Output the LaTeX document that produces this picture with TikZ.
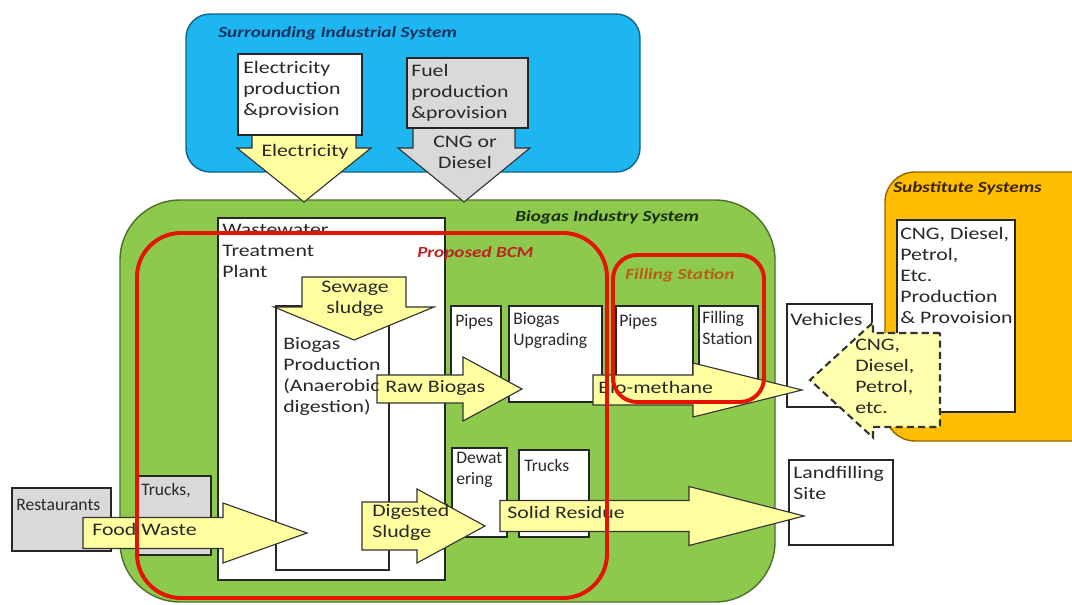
\documentclass[tikz,border=0pt]{standalone}
\usepackage{fontspec}
\setmainfont{Carlito}[FakeStretch=1.24]
\newfontfamily\narrowfont{Carlito}
\usepackage{xcolor}
\usepackage{tikz}
\usetikzlibrary{fit}
\definecolor{skyblue}{RGB}{30, 182, 240}
\definecolor{leafgreen}{RGB}{141, 201, 77}
\definecolor{amber}{RGB}{255, 190, 0}
\definecolor{boxgray}{RGB}{217, 217, 217}
\definecolor{flowyellow}{RGB}{255, 255, 160}
\definecolor{framered}{RGB}{228, 20, 0}
\definecolor{textdark}{RGB}{40, 40, 40}
\definecolor{titleblue}{RGB}{25, 50, 95}
\definecolor{titlegreen}{RGB}{25, 45, 15}
\definecolor{titlered}{RGB}{190, 35, 35}
\definecolor{titleorange}{RGB}{185, 95, 20}
\definecolor{titlebrown}{RGB}{55, 35, 0}
\newcommand{\bodyfont}{\fontsize{12.5}{14.9}\selectfont}
\newcommand{\titlefont}{\fontsize{11}{13}\selectfont\bfseries\itshape}
% block arrows: style, tail, head base, tip, centre, body half, head half
\newcommand{\blockh}[7]{%
    \draw[#1] (#2,{#5-#6}) -- (#3,{#5-#6}) -- (#3,{#5-#7}) -- (#4,#5)
        -- (#3,{#5+#7}) -- (#3,{#5+#6}) -- (#2,{#5+#6}) -- cycle;}
\newcommand{\blockv}[7]{%
    \draw[#1] ({#2-#6},#3) -- ({#2-#6},#4) -- ({#2-#7},#4) -- (#2,#5)
        -- ({#2+#7},#4) -- ({#2+#6},#4) -- ({#2+#6},#3) -- cycle;}
\tikzset{
    panel/.style={rectangle, draw=#1!55!black, fill=#1, line width=1pt, inner sep=0pt},
    box/.style={rectangle, draw=black!85, fill=white, line width=0.9pt, inner sep=0pt},
    graybox/.style={box, fill=boxgray},
    redframe/.style={rectangle, draw=framered, line width=2.8pt, inner sep=0pt},
    txt/.style={anchor=north west, inner sep=0pt, align=left, text=textdark,
        font=\bodyfont, execute at begin node=\strut},
    ntxt/.style={txt, font=\narrowfont\bodyfont},
    lbl/.style={txt, anchor=north, align=center},
    title/.style={anchor=base west, inner sep=0pt, font=\titlefont},
    yarrow/.style={fill=flowyellow, draw=black!80, line width=0.8pt, line join=miter},
    garrow/.style={yarrow, fill=boxgray},
    darrow/.style={yarrow, fill=flowyellow!85!white, dash pattern=on 5pt off 3pt, line width=1.5pt},
}

\begin{document}
\begin{tikzpicture}[x=0.025cm, y=-0.025cm]
    \useasboundingbox (0,0) rectangle (1072,605);
    \clip (0,0) rectangle (1072,605);

    % system panels
    \node[panel=skyblue, rounded corners=0.6cm, fit={(186,14) (640,172)}] (surrounding) {};
    \node[panel=leafgreen, rounded corners=1.5cm, fit={(120,200) (775,602)}] (biogas) {};
    \node[panel=amber, rounded corners=0.75cm, fit={(885,172) (1110,441)}] (substitute) {};

    % supply from the surrounding system
    \blockv{yarrow}{304}{135}{148}{202}{52}{67}
    \blockv{garrow}{464}{128}{148}{202}{51}{66}
    \node[box, fit={(238,54) (362,135)}] (elecprod) {};
    \node[graybox, fit={(407,58) (528,128)}] (fuelprod) {};
    \node[txt] (elecprodtxt) at (243,61) {Electricity\\production\\\&provision};
    \node[txt] (fuelprodtxt) at (411,64) {Fuel\\production\\\&provision};
    \node[lbl] (electxt) at (305,142) {Electricity};
    \node[lbl] (fueltxt) at (465,136) {CNG or\\Diesel};

    % plant and chain boxes
    \node[box, fit={(218,218) (445,580)}] (wwtp) {};
    \node[box, fit={(276,306) (389,570)}] (digester) {};
    \node[box, fit={(451,306) (501,400)}] (pipesin) {};
    \node[box, fit={(509,306) (602,402)}] (upgrading) {};
    \node[box, fit={(616,306) (693,376)}] (pipesout) {};
    \node[box, fit={(699,306) (758,379)}] (station) {};
    \node[box, fit={(787,304) (872,407)}] (vehicles) {};
    \node[box, fit={(897,220) (1015,412)}] (fossil) {};
    \node[box, fit={(789,460) (893,545)}] (landfill) {};
    \node[box, fit={(452,448) (507,537)}] (dewater) {};
    \node[box, fit={(519,450) (589,537)}] (trucksout) {};
    \node[graybox, fit={(12,488) (111,551)}] (restaurants) {};
    \node[graybox, fit={(137,476) (211,555)}] (trucksin) {};

    % material flows
    \blockv{yarrow}{354}{277}{307}{340}{52}{80}
    \blockh{yarrow}{377}{463}{522}{389}{14}{32}
    \blockh{yarrow}{593}{693}{802}{390}{15}{27}
    \blockh{yarrow}{83}{223}{307}{533}{15.5}{30}
    \blockh{yarrow}{362}{417}{485}{526}{24}{37}
    \blockh{yarrow}{500}{689}{804}{516}{15.5}{29.5}
    \blockh{darrow}{940}{873}{810}{380}{47}{57.5}

    \node[txt] (wwtptxt) at (222,224) {Wastewater\\Treatment\\Plant};
    \node[txt] (digestertxt) at (283,337) {Biogas\\Production\\(Anaerobic\\digestion)};
    \node[lbl] (sludgetxt) at (355,281) {Sewage\\sludge};
    \node[txt] (rawtxt) at (385,378) {Raw Biogas};
    \node[ntxt] (pipesintxt) at (455,312) {Pipes};
    \node[ntxt] (upgradingtxt) at (513,312) {Biogas\\Upgrading};
    \node[ntxt] (pipesouttxt) at (619,312) {Pipes};
    \node[ntxt] (stationtxt) at (702,311) {Filling\\Station};
    \node[txt] (methanetxt) at (598,379) {Bio-methane};
    \node[txt] (vehiclestxt) at (790,311) {Vehicles};
    \node[txt] (fossiltxt) at (900,227) {CNG, Diesel,\\Petrol,\\Etc.\\Production\\\& Provoision};
    \node[txt] (fueltypes) at (855,339) {CNG,\\Diesel,\\Petrol,\\etc.};
    \node[txt] (landfilltxt) at (793,466) {Landfilling\\Site};
    \node[ntxt] (restaurantstxt) at (16,496) {Restaurants};
    \node[ntxt] (trucksintxt) at (141,481) {Trucks,};
    \node[txt] (foodtxt) at (92,521) {Food Waste};
    \node[txt] (digestedtxt) at (372,504) {Digested\\Sludge};
    \node[ntxt] (dewatertxt) at (456,452) {Dewat\\ering};
    \node[ntxt] (trucksouttxt) at (524,457) {Trucks};
    \node[txt] (residuetxt) at (507,504) {Solid Residue};

    % model boundaries
    \node[redframe, rounded corners=1.1cm, fit={(137,233) (607,598)}] (bcm) {};
    \node[redframe, rounded corners=0.6cm, fit={(613,255) (764,402)}] (fillframe) {};

    \node[title, text=titleblue] (surroundingtitle) at (218,37) {Surrounding Industrial System};
    \node[title, text=titlegreen] (biogastitle) at (515,221) {Biogas Industry System};
    \node[title, text=titlered] (bcmtitle) at (417,257) {Proposed BCM};
    \node[title, text=titleorange] (filltitle) at (625,279) {Filling Station};
    \node[title, text=titlebrown] (substitutetitle) at (893,192) {Substitute Systems};
\end{tikzpicture}
\end{document}
